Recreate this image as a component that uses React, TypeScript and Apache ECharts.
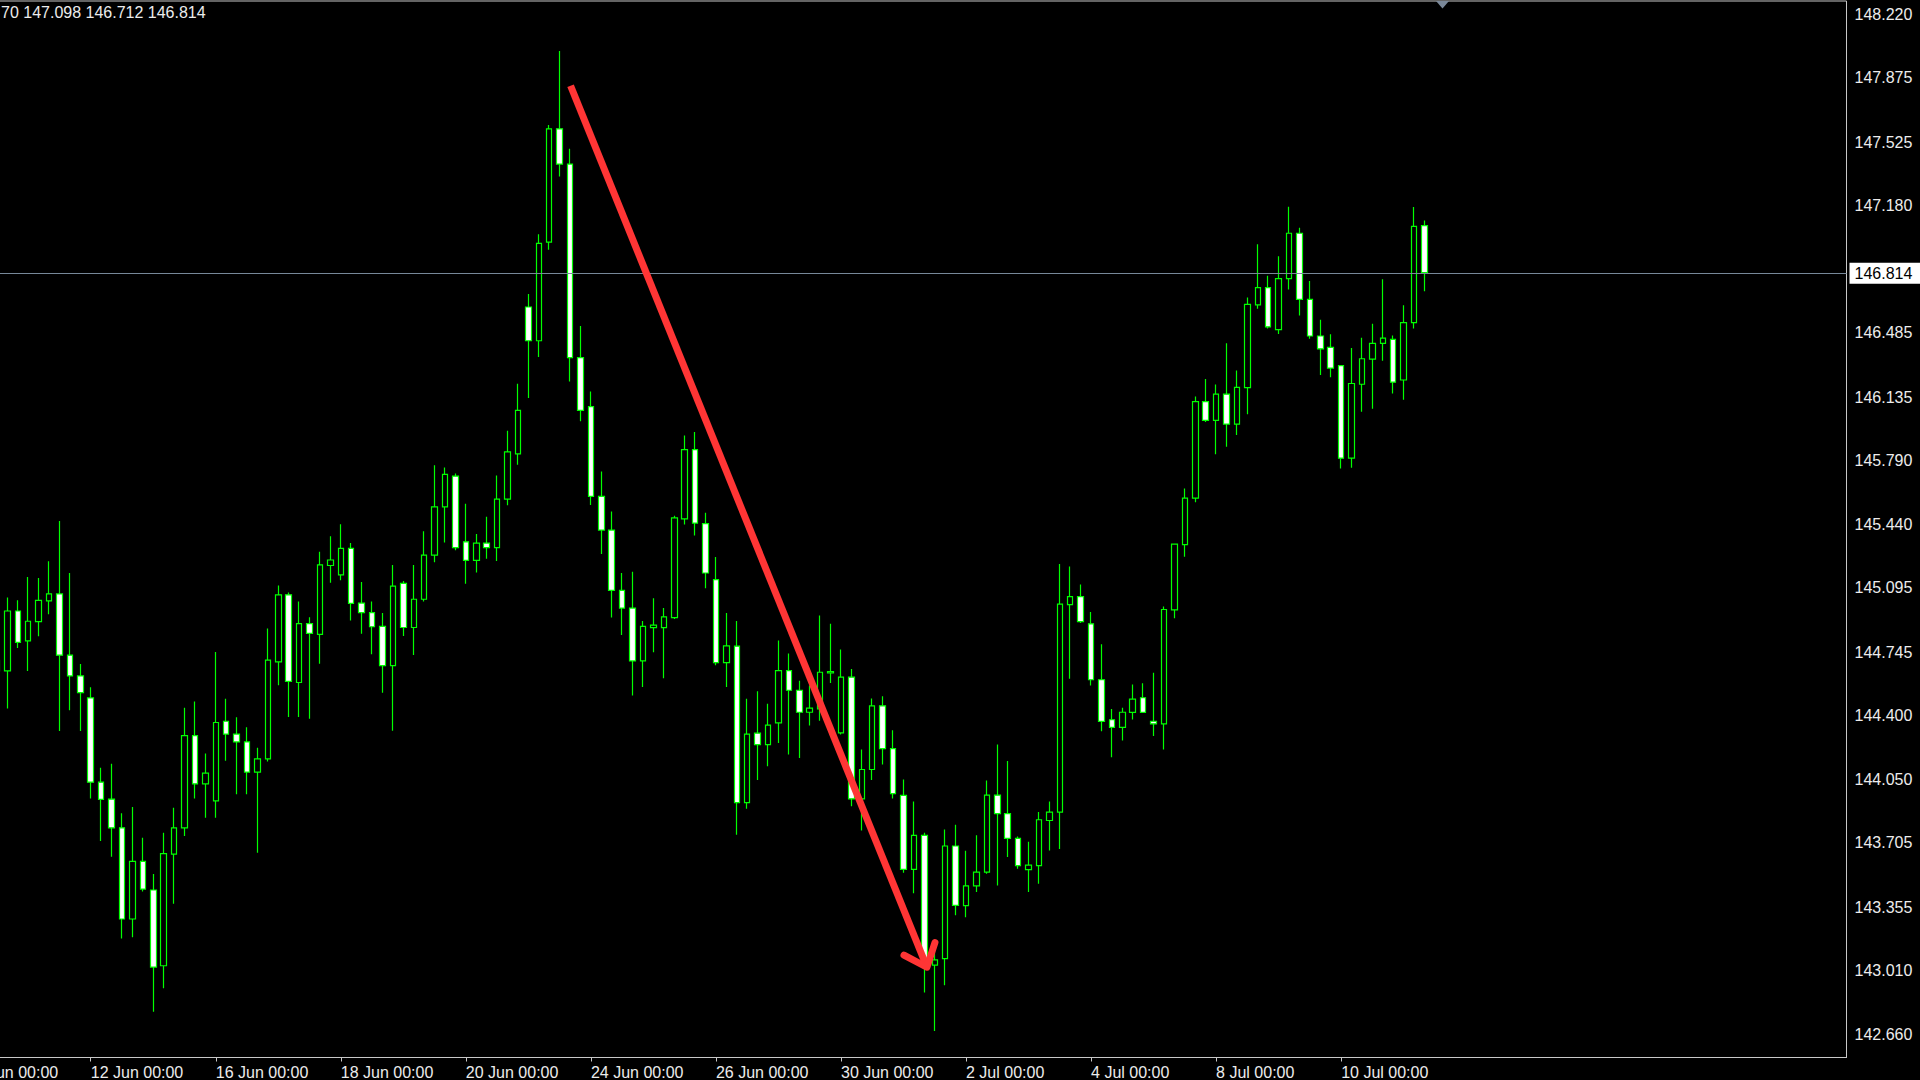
import React, { useEffect, useRef } from 'react';
import * as echarts from 'echarts';

// ---- categories (H4 bars) ----
const tradingDays = ['10 Jun', '11 Jun', '12 Jun', '13 Jun', '16 Jun', '17 Jun', '18 Jun', '19 Jun', '20 Jun', '23 Jun', '24 Jun', '25 Jun', '26 Jun', '27 Jun', '30 Jun', '1 Jul', '2 Jul', '3 Jul', '4 Jul', '7 Jul', '8 Jul', '9 Jul', '10 Jul', '11 Jul'];
const barHours = ['00:00', '04:00', '08:00', '12:00', '16:00', '20:00'];
const futureSlots = 37; // empty chart-shift area on the right
const firstBarIndex = 3; // first drawn bar = 10 Jun 12:00

// ---- OHLC values (USDJPY H4) ----
const opens = [
  144.700, 144.643, 144.969, 144.806, 144.911, 145.024, 145.062, 144.728, 144.615, 144.495,
  144.036, 143.943, 143.787, 143.290, 143.604, 143.448, 143.035, 143.644, 143.787, 144.290,
  144.027, 143.934, 144.368, 144.298, 144.255, 144.091, 144.163, 144.692, 145.057, 144.579,
  144.900, 144.842, 145.217, 145.166, 145.310, 145.012, 144.960, 144.885, 144.671, 145.119,
  144.879, 145.033, 145.273, 145.536, 145.704, 145.346, 145.245, 145.339, 145.314, 145.579,
  145.825, 146.626, 146.442, 146.980, 147.597, 147.405, 146.350, 146.083, 145.594, 145.410,
  145.081, 144.985, 144.697, 144.878, 144.878, 144.933, 145.471, 145.849, 145.445, 145.140,
  144.687, 144.777, 143.924, 144.303, 144.241, 144.359, 144.644, 144.537, 144.417, 144.435,
  144.632, 144.305, 144.608, 143.945, 144.105, 144.452, 144.219, 143.964, 143.560, 143.746,
  143.038, 143.074, 143.688, 143.363, 143.470, 143.546, 143.965, 143.864, 143.729, 143.559,
  143.581, 143.827, 143.873, 145.004, 145.047, 144.899, 144.594, 144.376, 144.334, 144.416,
  144.496, 144.368, 144.354, 144.975, 145.331, 145.584, 146.110, 146.008, 146.151, 145.988,
  146.186, 146.638, 146.732, 146.503, 146.781, 147.028, 146.668, 146.468, 146.406, 146.306,
  145.802, 146.205, 146.342, 146.428, 146.449, 146.228, 146.541, 147.070,
];
const highs = [
  144.760, 145.042, 145.027, 145.154, 145.149, 145.240, 145.459, 145.176, 144.680, 144.553,
  144.114, 144.136, 143.867, 143.901, 143.733, 143.535, 143.760, 143.896, 144.441, 144.475,
  144.192, 144.746, 144.490, 144.390, 144.335, 144.223, 144.873, 145.108, 145.070, 145.020,
  144.935, 145.292, 145.376, 145.442, 145.339, 145.127, 145.020, 144.958, 145.220, 145.132,
  145.220, 145.404, 145.764, 145.751, 145.719, 145.554, 145.389, 145.483, 145.708, 145.952,
  146.208, 146.697, 147.023, 147.618, 148.022, 147.488, 146.522, 146.165, 145.729, 145.511,
  145.176, 145.183, 144.914, 145.039, 144.985, 145.488, 145.925, 145.944, 145.504, 145.263,
  144.958, 144.915, 144.490, 144.532, 144.463, 144.808, 144.737, 144.588, 144.563, 144.944,
  144.900, 144.759, 144.653, 144.214, 144.492, 144.504, 144.319, 144.051, 143.931, 143.760,
  143.107, 143.778, 143.804, 143.662, 143.746, 144.045, 144.241, 144.151, 143.740, 143.711,
  143.873, 143.931, 145.225, 145.211, 145.113, 144.964, 144.788, 144.434, 144.441, 144.568,
  144.575, 144.632, 144.993, 145.337, 145.637, 146.138, 146.233, 146.203, 146.428, 146.280,
  146.678, 146.968, 146.796, 146.903, 147.173, 147.058, 146.768, 146.556, 146.477, 146.310,
  146.402, 146.458, 146.535, 146.777, 146.471, 146.635, 147.171, 147.098,
];
const lows = [
  144.600, 144.437, 144.767, 144.642, 144.831, 144.951, 144.315, 144.428, 144.315, 143.947,
  143.715, 143.629, 143.183, 143.190, 143.440, 142.785, 142.912, 143.373, 143.742, 143.947,
  143.842, 143.842, 144.152, 143.970, 143.970, 143.651, 144.148, 144.564, 144.391, 144.391,
  144.382, 144.682, 145.123, 145.136, 144.917, 144.845, 144.733, 144.523, 144.316, 144.832,
  144.729, 145.020, 145.235, 145.342, 145.300, 145.117, 145.179, 145.254, 145.241, 145.545,
  145.766, 146.130, 146.354, 146.938, 147.337, 146.220, 146.003, 145.547, 145.280, 144.933,
  144.838, 144.508, 144.555, 144.744, 144.602, 144.925, 145.440, 145.381, 145.093, 144.673,
  144.555, 143.749, 143.891, 144.047, 144.123, 144.250, 144.187, 144.167, 144.345, 144.370,
  144.577, 144.296, 143.905, 143.773, 144.047, 144.132, 143.947, 143.542, 143.430, 142.889,
  142.680, 142.929, 143.310, 143.300, 143.437, 143.537, 143.473, 143.628, 143.564, 143.437,
  143.482, 143.664, 143.671, 144.599, 144.904, 144.563, 144.314, 144.172, 144.263, 144.377,
  144.414, 144.287, 144.214, 144.930, 145.264, 145.562, 145.999, 145.823, 145.864, 145.928,
  146.042, 146.616, 146.509, 146.479, 146.721, 146.580, 146.453, 146.256, 146.243, 145.746,
  145.750, 146.055, 146.072, 146.333, 146.155, 146.121, 146.509, 146.712,
];
const closes = [
  144.643, 144.969, 144.798, 144.913, 145.027, 145.062, 144.728, 144.615, 144.524, 144.036,
  143.942, 143.787, 143.290, 143.604, 143.453, 143.028, 143.646, 143.787, 144.290, 144.027,
  144.085, 144.361, 144.298, 144.255, 144.091, 144.163, 144.701, 145.057, 144.585, 144.900,
  144.847, 145.220, 145.247, 145.310, 145.010, 144.960, 144.883, 144.671, 145.104, 144.879,
  145.033, 145.273, 145.536, 145.714, 145.314, 145.245, 145.339, 145.314, 145.579, 145.836,
  146.062, 146.442, 146.973, 147.597, 147.405, 146.350, 146.062, 145.594, 145.410, 145.081,
  144.985, 144.697, 144.885, 144.892, 144.937, 145.476, 145.849, 145.448, 145.176, 144.687,
  144.779, 143.924, 144.298, 144.241, 144.347, 144.644, 144.537, 144.417, 144.439, 144.635,
  144.639, 144.608, 143.945, 144.105, 144.452, 144.219, 143.973, 143.560, 143.746, 143.052,
  143.067, 143.688, 143.364, 143.470, 143.546, 143.965, 143.864, 143.729, 143.581, 143.584,
  143.831, 143.873, 145.006, 145.047, 144.911, 144.594, 144.367, 144.334, 144.417, 144.488,
  144.416, 144.354, 144.977, 145.333, 145.584, 146.110, 146.008, 146.151, 145.988, 146.188,
  146.640, 146.732, 146.518, 146.781, 147.028, 146.668, 146.468, 146.398, 146.293, 145.802,
  146.209, 146.344, 146.428, 146.456, 146.216, 146.541, 147.066, 146.814,
];

// ---- axes ----
const xTickLabels = ['10 Jun 00:00', '12 Jun 00:00', '16 Jun 00:00', '18 Jun 00:00', '20 Jun 00:00', '24 Jun 00:00', '26 Jun 00:00', '30 Jun 00:00', '2 Jul 00:00', '4 Jul 00:00', '8 Jul 00:00', '10 Jul 00:00'];
const yTickLabels = ['148.220', '147.875', '147.525', '147.180', '146.485', '146.135', '145.790', '145.440', '145.095', '144.745', '144.400', '144.050', '143.705', '143.355', '143.010', '142.660'];
const yMin = 142.535;
const yMax = 148.294;
const currentPrice = 146.814;
const headerText = '70 147.098 146.712 146.814';

// ---- drawn arrow (bar index, price) ----
const arrowFrom = [58.05, 147.832];
const arrowTo = [92.25, 143.027];

const FONT = '"Liberation Sans", Arial, sans-serif';
const LIME = '#00ff00';
const FRAME = '#c8c8c8';
const TEXT = '#ececec';

export default function App() {
  const ref = useRef<HTMLDivElement>(null);

  useEffect(() => {
    if (!ref.current) return;
    const chart = echarts.init(ref.current, null, { renderer: 'svg' });

    const categories: string[] = [];
    tradingDays.forEach((d) => barHours.forEach((h) => categories.push(`${d} ${h}`)));
    for (let k = 0; k < futureSlots; k++) categories.push(`future ${k + 1}`);
    const nCat = categories.length;

    const candleData = categories.map((_, i) => {
      const k = i - firstBarIndex;
      if (k >= 0 && k < opens.length) return [opens[k], closes[k], lows[k], highs[k]];
      return ['-', '-', '-', '-'];
    });

    const xLabelSet = new Set(xTickLabels);
    const yTickValues = yTickLabels.map(Number);

    chart.setOption({
      animation: false,
      backgroundColor: '#000000',
      grid: {
        left: -39.5,
        right: 73.5,
        top: 1,
        bottom: 22.5,
        show: true,
        borderColor: FRAME,
        borderWidth: 1,
        backgroundColor: '#000000',
        containLabel: false,
        outerBoundsMode: 'none',
      },
      xAxis: [
        {
          type: 'category',
          data: categories,
          boundaryGap: true,
          axisLine: { show: true, lineStyle: { color: FRAME, width: 1 } },
          axisTick: {
            show: true,
            alignWithLabel: true,
            length: 4,
            interval: (_i: number, v: string) => xLabelSet.has(v),
            lineStyle: { color: FRAME },
          },
          axisLabel: {
            interval: (_i: number, v: string) => xLabelSet.has(v),
            align: 'left',
            margin: 7,
            color: TEXT,
            fontSize: 16,
            fontFamily: FONT,
            hideOverlap: false,
          },
          splitLine: { show: false },
        },
        { type: 'value', min: -0.5, max: nCat - 0.5, show: false },
      ],
      yAxis: [
        {
          type: 'value',
          position: 'right',
          min: yMin,
          max: yMax,
          scale: true,
          splitLine: { show: false },
          axisLine: { show: true, lineStyle: { color: FRAME, width: 1 } },
          axisTick: { show: true, length: 4, customValues: yTickValues, lineStyle: { color: FRAME } },
          axisLabel: {
            customValues: yTickValues,
            formatter: (v: number) => v.toFixed(3),
            color: TEXT,
            fontSize: 16,
            fontFamily: FONT,
            margin: 8,
          },
        },
      ],
      series: [
        {
          type: 'candlestick',
          xAxisIndex: 0,
          yAxisIndex: 0,
          data: candleData,
          barWidth: 6,
          silent: true,
          itemStyle: {
            color: '#000000',
            color0: '#ffffff',
            borderColor: LIME,
            borderColor0: LIME,
            borderWidth: 1.2,
          },
          markLine: {
            silent: true,
            symbol: ['none', 'none'],
            lineStyle: { color: '#778899', width: 1, type: 'solid' },
            label: {
              show: true,
              position: 'end',
              distance: 3,
              formatter: () => currentPrice.toFixed(3),
              backgroundColor: '#ffffff',
              color: '#000000',
              fontSize: 16,
              fontFamily: FONT,
              padding: [3, 14, 2, 5],
            },
            data: [{ yAxis: currentPrice }],
          },
        },
        {
          type: 'custom',
          xAxisIndex: 1,
          yAxisIndex: 0,
          silent: true,
          clip: false,
          z: 10,
          data: [[arrowFrom[0], arrowFrom[1], arrowTo[0], arrowTo[1]]],
          renderItem: (_params: any, api: any) => {
            const p0 = api.coord([api.value(0), api.value(1)]);
            const p1 = api.coord([api.value(2), api.value(3)]);
            const dx = p1[0] - p0[0];
            const dy = p1[1] - p0[1];
            const len = Math.hypot(dx, dy);
            const rx = -dx / len;
            const ry = -dy / len;
            const ang = (40 * Math.PI) / 180;
            const L = 26;
            const c = Math.cos(ang);
            const s = Math.sin(ang);
            const a1 = [p1[0] + L * (rx * c - ry * s), p1[1] + L * (rx * s + ry * c)];
            const a2 = [p1[0] + L * (rx * c + ry * s), p1[1] + L * (-rx * s + ry * c)];
            return {
              type: 'group',
              children: [
                {
                  type: 'line',
                  shape: { x1: p0[0], y1: p0[1], x2: p1[0], y2: p1[1] },
                  style: { stroke: '#ff3535', lineWidth: 7, lineCap: 'butt' },
                },
                {
                  type: 'polyline',
                  shape: { points: [a1, p1, a2] },
                  style: { stroke: '#ff3535', lineWidth: 7, lineCap: 'round', lineJoin: 'round', fill: null },
                },
              ],
            };
          },
        },
      ],
      graphic: [
        {
          type: 'text',
          left: 1,
          top: 4,
          style: { text: headerText, fill: TEXT, fontSize: 16, fontFamily: FONT },
        },
        {
          type: 'polygon',
          shape: { points: [[1436, 1], [1449, 1], [1442.5, 8.5]] },
          style: { fill: '#7a8899' },
        },
      ],
    });

    return () => chart.dispose();
  }, []);

  return (
    <div
      ref={ref}
      style={{ position: 'fixed', left: 0, top: 0, width: 1920, height: 1080, background: '#000' }}
    />
  );
}
